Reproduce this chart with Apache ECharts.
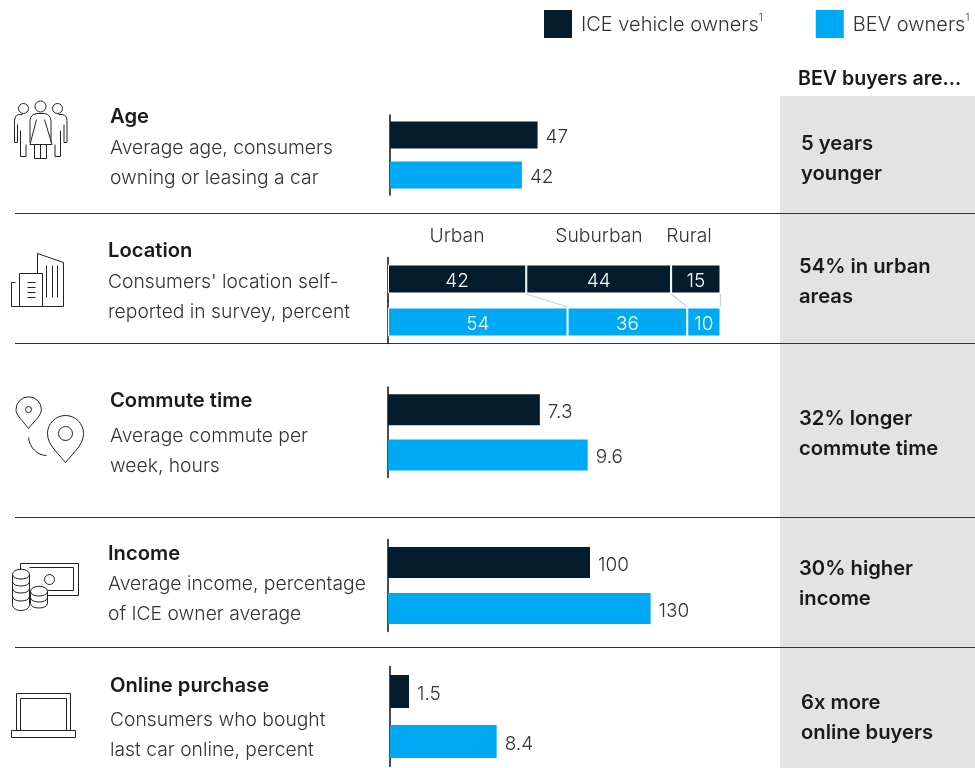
<!DOCTYPE html>
<html><head><meta charset="utf-8">
<style>html,body{margin:0;padding:0;background:#fff}#c{width:975px;height:768px}</style>
<script src="https://cdn.jsdelivr.net/npm/echarts@6/dist/echarts.min.js"></script></head>
<body><div id="c"></div>
<script>
const rows = ['ICE vehicle owners','BEV owners'];
const ageValues = [47,42];
const commuteValues = [7.3,9.6];
const incomeValues = [100,130];
const onlineValues = [1.5,8.4];
const locationNames = ['Urban','Suburban','Rural'];
const locationIce = [42,44,15];
const locationBev = [54,36,10];
const titles = ['Age','Location','Commute time','Income','Online purchase'];
const subtitles = [
 ['Average age, consumers','owning or leasing a car'],
 ["Consumers' location self-",'reported in survey, percent'],
 ['Average commute per','week, hours'],
 ['Average income, percentage','of ICE owner average'],
 ['Consumers who bought','last car online, percent']];
const callouts = [['5 years','younger'],['54% in urban','areas'],['32% longer','commute time'],['30% higher','income'],['6x more','online buyers']];
const calloutHeader = 'BEV buyers are...';

const DARK='#051c2c', BLUE='#00a9f4', TXT='#333333', HEAD='#1a1a1a', FONT='Inter, sans-serif';
const FS=19, BODY='300 19.3px '+FONT, BOLD='600 20.2px '+FONT;
const chart = echarts.init(document.getElementById('c'),null,{renderer:'canvas'});

const grids=[], xAxes=[], yAxes=[], series=[];
function addGrid(left,top,w,h,max,cats){
  const i=grids.length;
  grids.push({left,top,width:w,height:h,containLabel:false});
  xAxes.push({type:'value',gridIndex:i,min:0,max,show:false});
  yAxes.push({type:'category',gridIndex:i,inverse:true,data:cats,
    axisLine:{show:true,lineStyle:{color:'#111',width:1.5}},axisTick:{show:false},axisLabel:{show:false},splitLine:{show:false}});
  return i;
}
function simplePanel(left,top,w,h,max,vals,bw){
  const i=addGrid(left,top,w,h,max,rows);
  [0,1].forEach(k=>{
    series.push({type:'bar',name:rows[k],xAxisIndex:i,yAxisIndex:i,stack:'p'+i,barWidth:bw,
      data:rows.map((_,j)=>j===k?vals[j]:null),
      itemStyle:{color:k?BLUE:DARK},
      label:{show:true,position:'right',distance:8,offset:[0,2.5],color:TXT,fontFamily:FONT,fontSize:FS,fontWeight:300,formatter:p=>p.value}});
  });
}
simplePanel(390,115,314,80,100,ageValues,27);
simplePanel(388,387,208,90.5,10,commuteValues,31);
simplePanel(388,539.5,303,92,150,incomeValues,31);
simplePanel(390,666.5,127,100,10,onlineValues,33);

function locationRow(top,vals,k){
  const total=vals.reduce((a,b)=>a+b,0);
  const i=addGrid(388,top,332.5,43,total,[rows[k]]);
  vals.forEach((v,j)=>series.push({type:'bar',name:rows[k],xAxisIndex:i,yAxisIndex:i,stack:'l'+k,barWidth:29,
    data:[v],itemStyle:{color:k?BLUE:DARK,borderColor:'#fff',borderWidth:1},
    label:{show:true,position:'inside',offset:[0,2],color:'#fff',fontFamily:FONT,fontSize:FS,fontWeight:300}}));
  return i;
}
const locI=locationRow(257.5,locationIce,0);
const locB=locationRow(300.5,locationBev,1);

// icons, drawn as outline paths
const iconPaths=[
 // people
 'M34.5 106a5.5 5.5 0 1 0 11 0a5.5 5.5 0 1 0 -11 0 M18 108a5 5 0 1 0 10 0a5 5 0 1 0 -10 0 M52 108a5 5 0 1 0 10 0a5 5 0 1 0 -10 0'+
 'M29.5 142V120Q30 114 36 113H44Q50 114 50.5 120V142 M36 119L29.5 144H51.5L44 119 M34 144V158H46V144 M40 144V158'+
 'M22 114H18Q14 115 14 120V142H17V124 M20 130V156H25.5V144'+
 'M58 114H62Q66.5 115 66.5 120V142H63.5V124 M60 130V156H54.5V144',
 // buildings
 'M11 306V282H15 M11 306H63 M19 306V273H42V306 M37 273V253L63 262V306 M27 282H35M27 287H35M27 292H35M27 297H35 M46 265V297M52 265V297M57 265V297',
 // pins
 'M28 428C22 420 15.5 415 15.5 409a12.7 12.7 0 0 1 25.4 0C40.9 415 34 420 28 428Z M25 409a3 3 0 1 0 6 0a3 3 0 1 0 -6 0'+
 'M65 462C56 451 47 444 47 433a18 18 0 0 1 36 0C83 444 74 451 65 462Z M58 433a7 7 0 1 0 14 0a7 7 0 1 0 -14 0 M28 437C29 447 37 455 46 455',
 // money
 'M20 569V563H78V595H47 M29 567H73V590H47 M44 579a5 5 0 1 0 10 0a5 5 0 1 0 -10 0'+
 'M12 574C12 567 29 567 29 574C29 580 12 580 12 574 M12 574V604C12 612 29 612 29 604V574 M12 581C12 587 29 587 29 581 M12 588C12 594 29 594 29 588 M12 596C12 602 29 602 29 596'+
 'M30 591C30 584 47 584 47 591C47 597 30 597 30 591 M30 591V603C30 609 47 609 47 603V591 M30 597C30 603 47 603 47 597',
 // laptop
 'M16 730V693H70V730 M20 730V698H66V730 M11 730H75V737H11Z'
];
series.push({type:'custom',coordinateSystem:'none',silent:true,z:5,data:[0],
  renderItem:()=>({type:'group',x:0.5,y:0.5,children:iconPaths.map(d=>({type:'path',shape:{pathData:d},
    style:{fill:'none',stroke:'#222',lineWidth:1}}))})});

const g=[];
g.push({type:'rect',z:-10,shape:{x:780,y:96,width:195,height:672},style:{fill:'#e3e3e3'}});
[213,343,517,647].forEach(y=>g.push({type:'line',z:-5,shape:{x1:15,y1:y+.5,x2:975,y2:y+.5},style:{stroke:'#333',lineWidth:1}}));
function text(x,y,t,o){g.push({type:'text',x,y,style:Object.assign({text:t,fill:TXT,font:BODY,verticalAlign:'middle'},o||{})});}
const textX=[110,108,110,108,110], titleY=[117,251,401,554,686], subY=[[148,178],[282,312],[436,466],[584,614],[720,750]];
titles.forEach((t,i)=>{
  text(textX[i],titleY[i],t,{fill:HEAD,font:BOLD});
  subtitles[i].forEach((s,j)=>text(textX[i],subY[i][j],s));
});
const callX=[801,799,799,799,801], callY=[[144,174],[267,297],[419,449],[569,599],[703,733]];
callouts.forEach((c,i)=>c.forEach((s,j)=>text(callX[i],callY[i][j],s,{fill:HEAD,font:BOLD})));
text(798,79,calloutHeader,{fill:HEAD,font:'600 19.6px '+FONT});

chart.setOption({
  animation:false,backgroundColor:'#fff',
  legend:{left:544,top:10,padding:0,itemWidth:28,itemHeight:28,itemGap:53,icon:'rect',data:rows,selectedMode:false,
    formatter:n=>'{a|'+n+'}{s|1}',
    textStyle:{rich:{a:{fontFamily:FONT,fontSize:20,fontWeight:300,color:'#333',padding:[2,0,0,4]},s:{fontFamily:FONT,fontSize:10,fontWeight:300,color:'#333',verticalAlign:'top',padding:[0,0,8,0]}}}},
  grid:grids,xAxis:xAxes,yAxis:yAxes,series,graphic:{elements:g}
});

// location labels and connectors follow the data scale
const labelX=[457,599,689];
const extra=[];
let ci=0,cb=0;
locationNames.forEach((n,j)=>{
  ci+=locationIce[j]; cb+=locationBev[j];
  const a2=chart.convertToPixel({xAxisIndex:locI},ci), b=chart.convertToPixel({xAxisIndex:locB},cb);
  extra.push({type:'text',x:labelX[j],y:236,style:{text:n,fill:TXT,font:BODY,align:'center',verticalAlign:'middle'}});
  extra.push({type:'line',z:-3,shape:{x1:a2,y1:294,x2:b,y2:307},style:{stroke:'#cfcfcf',lineWidth:1.2}});
});
chart.setOption({graphic:{elements:g.concat(extra)}},{replaceMerge:['graphic']});
</script></body></html>
